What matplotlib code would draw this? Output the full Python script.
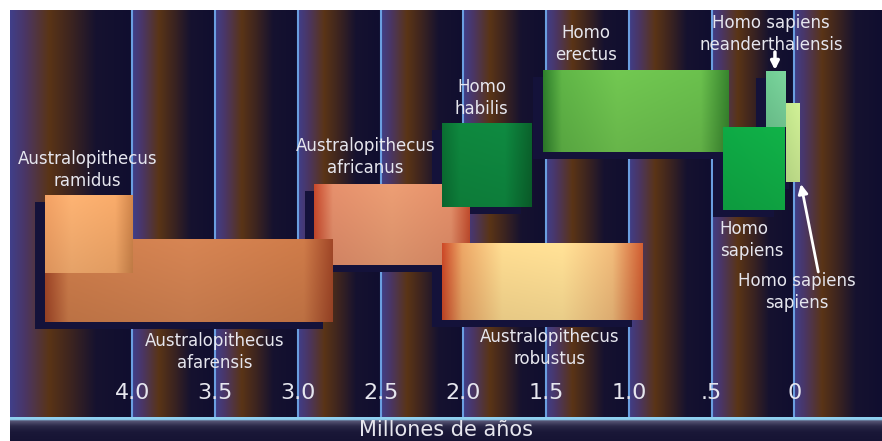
import numpy as np
import matplotlib
matplotlib.use("Agg")
from matplotlib import pyplot as plt
from matplotlib.colors import to_rgb
from matplotlib.patches import Rectangle

# rangos de cada especie, en millones de años
species = ["Australopithecus\nafricanus", "Australopithecus\nafarensis",
           "Australopithecus\nramidus", "Australopithecus\nrobustus",
           "Homo\nhabilis", "Homo\nerectus", "Homo\nsapiens",
           "Homo sapiens\nneanderthalensis", "Homo sapiens\nsapiens"]
start_mya = [2.90, 4.53, 4.53, 2.13, 2.13, 1.52, 0.43, 0.17, 0.05]
end_mya = [1.96, 2.79, 4.00, 0.92, 1.59, 0.40, 0.06, 0.05, -0.03]

ticks = [4.0, 3.5, 3.0, 2.5, 2.0, 1.5, 1.0, 0.5, 0.0]
tick_labels = ["4.0", "3.5", "3.0", "2.5", "2.0", "1.5", "1.0", ".5", "0"]

# filas verticales (en pixeles desde arriba) de cada barra
rows = [(184, 265), (239, 322), (195, 273), (243, 320), (123, 207),
        (70, 152), (127, 210), (71, 127), (103, 182)]

# colores de cada barra: paradas del degradado horizontal
bar_stops = [
    [(0, "#c0462a"), (0.12, "#dc8a68"), (0.5, "#e2976f"), (0.88, "#dc8a66"), (1, "#bc4a2c")],
    [(0, "#9c4426"), (0.08, "#c67848"), (0.5, "#cd7f50"), (0.9, "#c67646"), (1, "#9a4426")],
    [(0, "#e89a60"), (0.3, "#f2ab6e"), (0.8, "#eea466"), (1, "#c88048")],
    [(0, "#c44626"), (0.1, "#e3a062"), (0.3, "#f4d48c"), (0.6, "#f6d890"), (0.85, "#e8b476"), (1, "#c85a30")],
    [(0, "#0a6a30"), (0.2, "#0e823c"), (0.7, "#0e843e"), (1, "#0a5e2a")],
    [(0, "#2c7a2a"), (0.1, "#5cae44"), (0.4, "#6dbf4e"), (0.85, "#66b84a"), (1, "#357f2c")],
    [(0, "#0ea242"), (1, "#10aa45")],
    [(0, "#6cc48e"), (1, "#76cc96")],
    [(0, "#bcde88"), (1, "#c8e690")],
]

# posiciones de las etiquetas (x en millones de años, y en pixeles)
label_pos = [(2.59, 157, "center"), (3.50, 352, "center"), (4.27, 170, "center"),
             (1.48, 348, "center"), (1.89, 98, "center"), (1.26, 44, "center"),
             (0.45, 240, "left"), (0.14, 34, "center"), (-0.016, 292, "center")]

plt.rcParams['font.family'] = ['DejaVu Sans']

X_LEFT, X_RIGHT = 4.74, -0.53
TEXT = "#e6e6ee"
SHADOW = "#14123a"


def gradient_row(stops, n=256):
    u = np.linspace(0, 1, n)
    pos = [s[0] for s in stops]
    cols = np.array([to_rgb(s[1]) for s in stops])
    return np.stack([np.interp(u, pos, cols[:, k]) for k in range(3)], axis=-1)


def draw_bar(ax, x0, x1, top, bottom, stops, z):
    row = gradient_row(stops)
    shade = np.linspace(1.05, 0.95, 64)[:, None, None]
    img = np.clip(row[None, :, :] * shade, 0, 1)
    ax.imshow(img, extent=(x0, x1, bottom, top), origin="upper", aspect="auto",
              interpolation="bilinear", zorder=z)


def background(ax):
    edges = [X_LEFT] + ticks + [X_RIGHT]
    t = np.linspace(X_LEFT, X_RIGHT, 3000)
    phase = np.zeros_like(t)
    for a, b in zip(edges[:-1], edges[1:]):
        m = (t <= a) & (t >= b)
        phase[m] = (a - t[m]) / (a - b)
    stops = [(0, "#403f8a"), (0.12, "#4a3666"), (0.32, "#5a3416"),
             (0.5, "#3c2420"), (0.7, "#16122f"), (1, "#100e30")]
    pos = [s[0] for s in stops]
    cols = np.array([to_rgb(s[1]) for s in stops])
    row = np.stack([np.interp(phase, pos, cols[:, k]) for k in range(3)], axis=-1)
    ax.imshow(row[None, :, :], extent=(X_LEFT, X_RIGHT, 417, 10), origin="upper",
              aspect="auto", interpolation="bilinear", zorder=0)


fig = plt.figure(figsize=(8.82, 4.41), dpi=100)
fig.patch.set_facecolor("white")

ax = fig.add_axes([10 / 882, 24 / 441, 872 / 882, 407 / 441])
background(ax)

for t in ticks:
    ax.axvline(t, color="#6a9ee0", lw=1.5, zorder=1)

# sombras debajo de todas las barras
dx, dy = 0.06, 7
for s, e, (top, bot) in zip(start_mya, end_mya, rows):
    ax.add_patch(Rectangle((s + dx, top + dy), e - s, bot - top,
                           facecolor=SHADOW, edgecolor="none", zorder=2))

for i, (s, e, (top, bot), st) in enumerate(zip(start_mya, end_mya, rows, bar_stops)):
    draw_bar(ax, s, e, top, bot, st, 3 + i)

for name, (x, y, ha) in zip(species, label_pos):
    ax.text(x, y, name, color=TEXT, fontsize=12, ha=ha, va="center",
            linespacing=1.25, zorder=20, multialignment=ha)

# flechas hacia las barras estrechas
ax.annotate("", xy=(0.117, 70), xytext=(0.117, 52),
            arrowprops=dict(arrowstyle="-|>", color="white", lw=2.5,
                            mutation_scale=12, shrinkA=0, shrinkB=0), zorder=21)
ax.annotate("", xy=(-0.04, 184), xytext=(-0.145, 272),
            arrowprops=dict(arrowstyle="-|>", color="white", lw=2,
                            mutation_scale=14, shrinkA=0, shrinkB=0), zorder=21)

for t, lab in zip(ticks, tick_labels):
    ax.text(t, 393, lab, color=TEXT, fontsize=16, ha="center", va="center", zorder=20)

ax.set_xlim(X_LEFT, X_RIGHT)
ax.set_ylim(417, 10)
ax.axis("off")

# barra inferior con el titulo del eje
bx = fig.add_axes([10 / 882, 0, 872 / 882, 24 / 441])
y = np.linspace(417, 441, 48)
vstops = [(417, "#8fd0f0"), (419.5, "#8fd0f0"), (420.5, "#5a5878"),
          (426, "#2a2848"), (432, "#1a1838"), (441, "#161434")]
vcols = np.array([to_rgb(c) for _, c in vstops])
vp = [p for p, _ in vstops]
col = np.stack([np.interp(y, vp, vcols[:, k]) for k in range(3)], axis=-1)
bx.imshow(col[:, None, :], extent=(0, 1, 441, 417), origin="upper",
          aspect="auto", interpolation="bilinear")
bx.text(0.5, 436.5, "Millones de años", color=TEXT, fontsize=15,
        ha="center", va="baseline")
bx.set_xlim(0, 1)
bx.set_ylim(441, 417)
bx.axis("off")

fig.savefig("out.png", dpi=100, facecolor="white")
